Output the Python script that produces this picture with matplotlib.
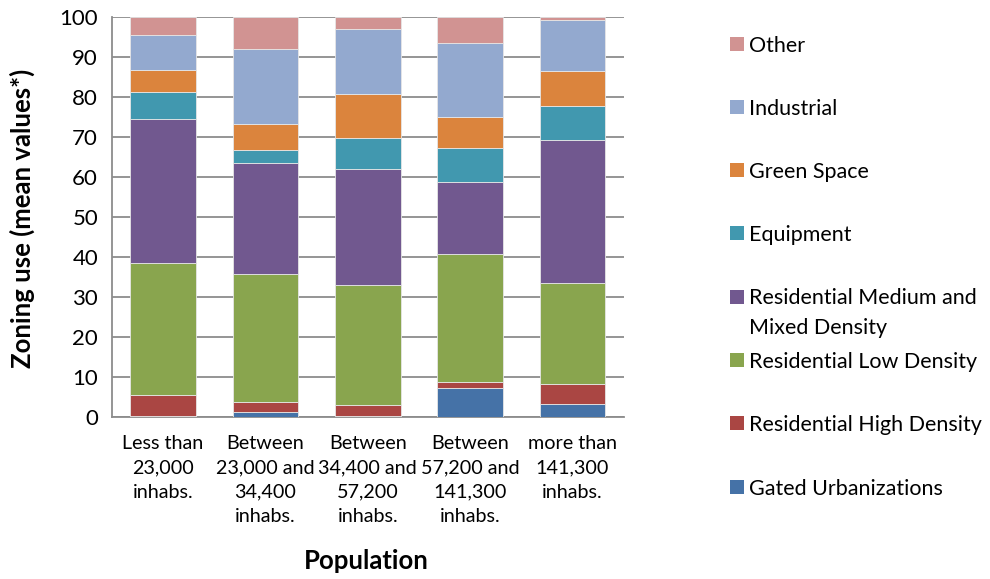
import matplotlib.pyplot as plt
from matplotlib.patches import Rectangle
import numpy as np

plt.rcParams['font.family'] = ['Lato', 'DejaVu Sans']

groups = ['Less than\n23,000\ninhabs.',
          'Between\n23,000 and\n34,400\ninhabs.',
          'Between\n34,400 and\n57,200\ninhabs.',
          'Between\n57,200 and\n141,300\ninhabs.',
          'more than\n141,300\ninhabs.']

# zoning categories, bottom of the stack first
gated = [0.3, 1.3, 0.25, 7.2, 3.2]
res_high = [5.1, 2.5, 2.65, 1.6, 5.0]
res_low = [33.0, 31.9, 30.2, 31.95, 25.3]
res_medium = [36.0, 27.9, 29.0, 18.05, 35.7]
equipment = [6.9, 3.2, 7.7, 8.5, 8.5]
green_space = [5.4, 6.5, 10.9, 7.8, 8.7]
industrial = [8.9, 18.8, 16.4, 18.3, 12.9]
other = [4.4, 7.9, 2.9, 6.6, 0.7]

series = [gated, res_high, res_low, res_medium, equipment, green_space, industrial, other]
names = ['Gated Urbanizations', 'Residential High Density', 'Residential Low Density',
         'Residential Medium and\nMixed Density', 'Equipment', 'Green Space',
         'Industrial', 'Other']
colors = ['#4572A7', '#AA4643', '#89A54E', '#71588F', '#4198AF', '#DB843D',
          '#93A9CF', '#D19392']

fig = plt.figure(figsize=(9.9, 5.79), dpi=100)
ax = fig.add_axes([0.1131, 0.2798, 0.5167, 0.6908])

x = np.arange(len(groups))
bottom = np.zeros(len(groups))
for vals, col in zip(series, colors):
    ax.bar(x, vals, width=0.642, bottom=bottom, color=col,
           edgecolor='#e6e6e6', linewidth=0.6, zorder=3)
    bottom += np.array(vals)

ax.set_xlim(-0.5, len(groups) - 0.5)
ax.set_ylim(0, 100)
ax.set_yticks(np.arange(0, 101, 10))
ax.grid(axis='y', color='#8c8c8c', linewidth=1.3, zorder=0)
for s in ['top', 'right']:
    ax.spines[s].set_visible(False)
for s in ['left', 'bottom']:
    ax.spines[s].set_color('#8c8c8c')
    ax.spines[s].set_linewidth(1.3)
ax.tick_params(axis='both', length=0)
ax.tick_params(axis='y', labelsize=16, pad=10)
ax.set_xticks(x)
ax.set_xticklabels(groups, fontsize=14.2, linespacing=1.52)
ax.tick_params(axis='x', pad=13)

fig.text(22 / 990, 1 - 218 / 579, 'Zoning use (mean values*)', rotation=90,
         fontsize=18.5, fontweight='bold', ha='center', va='center')
fig.text(366 / 990, 1 - 561 / 579, 'Population', fontsize=18.5,
         fontweight='bold', ha='center', va='center')

# legend: top entry is the last series; baseline is set on the last line
ys = [44, 107, 170, 233, 297, 360, 423, 487]
for i, y in enumerate(ys):
    k = len(series) - 1 - i
    fig.patches.append(Rectangle((730 / 990, 1 - (y + 7) / 579), 14 / 990, 14 / 579,
                                 transform=fig.transFigure, facecolor=colors[k],
                                 edgecolor='none'))
    nlines = names[k].count('\n')
    fig.text(749 / 990, 1 - (y + 8 + 29 * nlines) / 579, names[k], fontsize=15.5,
             ha='left', va='baseline', linespacing=1.6)

plt.savefig('out.png', dpi=100)
